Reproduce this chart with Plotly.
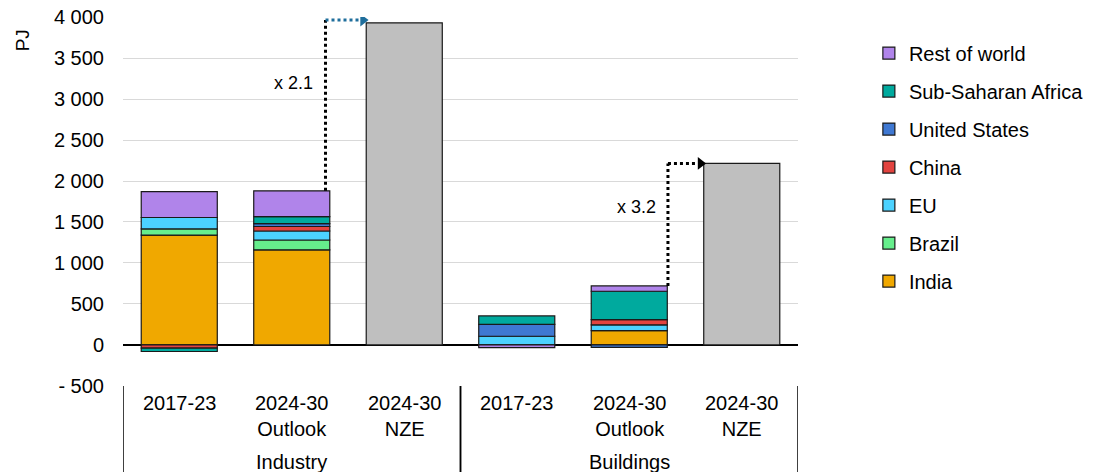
import plotly.graph_objects as go

# ---------------- data ----------------
sectors = ["Industry", "Industry", "Industry", "Buildings", "Buildings", "Buildings"]
periods = ["2017-23", "2024-30<br>Outlook", "2024-30<br>NZE",
           "2017-23", "2024-30<br>Outlook", "2024-30<br>NZE"]

india = [1340, 1160, None, None, 175, None]
brazil = [75, 120, None, None, None, None]
eu = [140, 110, None, 106, 70, None]
china = [-40, 55, None, None, 65, None]
united_states = [None, 35, None, 146, -30, None]
ssa = [-40, 85, None, 102, 345, None]
rest_of_world = [315, 315, None, -33, 65, None]
nze = [None, None, 3930, None, None, 2215]

series_names = ["India", "Brazil", "EU", "China", "United States",
                "Sub-Saharan Africa", "Rest of world"]
series_values = [india, brazil, eu, china, united_states, ssa, rest_of_world]
series_colors = ["#F0A800", "#66EE8C", "#4CD2FF", "#E2433F", "#3F78D2",
                 "#00AA9E", "#B084EA"]

ytick_vals = [-500, 0, 500, 1000, 1500, 2000, 2500, 3000, 3500, 4000]
ytick_text = ["- 500", "0", "500", "1 000", "1 500", "2 000", "2 500",
              "3 000", "3 500", "4 000"]

multipliers = ["x 2.1", "x 3.2"]

FONT = "Liberation Sans, Arial, sans-serif"
PLOT_H = 369.0  # plot-area height in px

fig = go.Figure()
x_cat = [sectors, periods]

n = len(series_names)
for i, (name, vals, col) in enumerate(zip(series_names, series_values, series_colors)):
    fig.add_trace(go.Bar(
        x=x_cat, y=vals, name=name, legendgroup=name, legendrank=1000 + n - i,
        marker=dict(color=col, line=dict(color="#1a1a1a", width=1.2)),
    ))

fig.add_trace(go.Bar(
    x=x_cat, y=nze, name="NZE", showlegend=False,
    marker=dict(color="#BFBFBF", line=dict(color="#1a1a1a", width=1.2)),
))


def pos_total(i):
    return sum(v[i] for v in series_values if v[i] is not None and v[i] > 0)


# arrows (on an overlaid linear axis matching category indices)
arrow_specs = [
    # (outlook index, nze index, vertical x offset, horiz colour, label)
    (1, 2, 0.30, "#1F6E9C", multipliers[0]),
    (4, 5, 0.344, "#000000", multipliers[1]),
]
for k, (io, inz, off, hcol, lab) in enumerate(arrow_specs):
    xv = io + off
    y0 = pos_total(io)
    y1 = nze[inz] + (33 if k == 0 else 0)
    tip = inz - 0.366
    fig.add_trace(go.Scatter(
        x=[xv, xv], y=[y0, y1], xaxis="x2", yaxis="y", mode="lines",
        line=dict(color="#000000", width=3, dash="dot"),
        showlegend=False, hoverinfo="skip"))
    fig.add_trace(go.Scatter(
        x=[xv, tip - 0.04], y=[y1, y1], xaxis="x2", yaxis="y", mode="lines",
        line=dict(color=hcol, width=3, dash="dot"),
        showlegend=False, hoverinfo="skip"))
    fig.add_trace(go.Scatter(
        x=[tip], y=[y1], xaxis="x2", yaxis="y", mode="markers",
        marker=dict(symbol="triangle-right", size=11, color=hcol,
                    line=dict(width=0)),
        showlegend=False, hoverinfo="skip"))
    fig.add_annotation(
        x=xv - 0.09, xref="x2", y=(3195 if k == 0 else 1687), yref="y",
        text=lab, showarrow=False, xanchor="right", yanchor="middle",
        font=dict(family=FONT, size=18, color="#000000"))

# category labels (two-level) under the plot
for i, p in enumerate(periods):
    fig.add_annotation(
        x=i, xref="x2", y=-5 / PLOT_H, yref="paper", text=p,
        showarrow=False, xanchor="center", yanchor="top", borderpad=0,
        font=dict(family=FONT, size=20, color="#000000"))
groups = []
for i, s in enumerate(sectors):
    if not groups or groups[-1][0] != s:
        groups.append([s, i, i])
    else:
        groups[-1][2] = i
for s, a, b in groups:
    fig.add_annotation(
        x=(a + b) / 2, xref="x2", y=-76 / PLOT_H, yref="paper", text=s,
        showarrow=False, xanchor="center", yanchor="middle",
        font=dict(family=FONT, size=20, color="#000000"))
    # group dividers
    for xd in (a - 0.5, b + 0.5):
        fig.add_shape(type="line", xref="x2", yref="paper",
                      x0=xd, x1=xd, y0=0, y1=-0.3,
                      line=dict(color="#000000", width=1.5))

fig.add_annotation(
    x=-0.149, xref="paper", y=0.938, yref="paper", text="PJ",
    textangle=-90, showarrow=False, xanchor="center", yanchor="middle",
    font=dict(family=FONT, size=19, color="#000000"))

fig.update_layout(
    width=1095, height=472,
    margin=dict(l=123, r=297, t=17, b=86, autoexpand=False),
    paper_bgcolor="white", plot_bgcolor="white",
    barmode="relative", bargap=0.324,
    font=dict(family=FONT, size=20, color="#000000"),
    legend=dict(
        x=1.105, xanchor="left", y=0.955, yanchor="top",
        traceorder="grouped", tracegroupgap=9,
        font=dict(family=FONT, size=20, color="#000000"),
        bgcolor="rgba(0,0,0,0)",
    ),
    xaxis=dict(
        type="multicategory", range=[-0.5, 5.5],
        showgrid=False, showline=False, zeroline=False,
        ticks="", showticklabels=False, showdividers=False,
        automargin=False,
    ),
    xaxis2=dict(
        overlaying="x", anchor="y", range=[-0.5, 5.5], visible=False,
        showgrid=False, zeroline=False,
    ),
    yaxis=dict(
        range=[-501, 4001], tickvals=ytick_vals, ticktext=ytick_text,
        showgrid=True, gridcolor="#D9D9D9", gridwidth=1,
        zeroline=True, zerolinecolor="#000000", zerolinewidth=2,
        showline=False, ticks="", automargin=False,
        ticklabeloverflow="allow", ticklabelstandoff=18,
        tickfont=dict(family=FONT, size=20, color="#000000"),
    ),
    showlegend=True,
)

fig.write_html(
    "out.html",
    config={"displayModeBar": False},
    post_script="document.body.style.margin='0';document.body.style.overflow='hidden';",
)
